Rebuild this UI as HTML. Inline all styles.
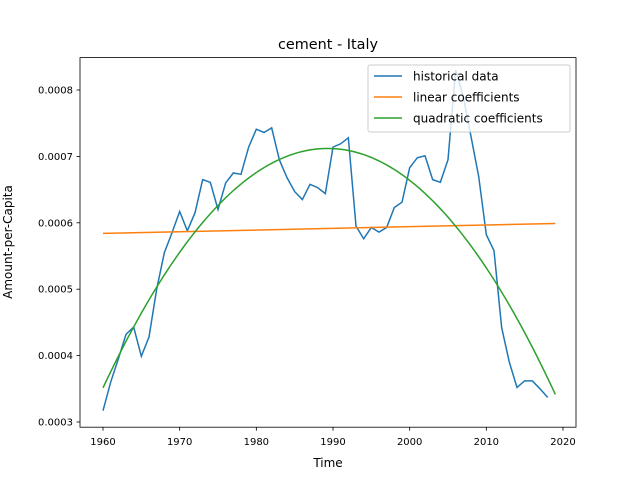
<!DOCTYPE html>
<html><head><meta charset="utf-8"><style>body{margin:0;background:#fff}svg{display:block;font-family:"DejaVu Sans","Liberation Sans",sans-serif}</style></head>
<body>
<svg id="chart" width="640" height="480" xmlns="http://www.w3.org/2000/svg">
<rect width="640" height="480" fill="#fff"/>
<text x="328" y="49" font-size="14.4" text-anchor="middle">cement - Italy</text>
<g id="plot"></g>
<rect x="80" y="57.6" width="496" height="369.6" fill="none" stroke="#000" stroke-width="0.8"/>
<text x="328" y="467" font-size="12" text-anchor="middle">Time</text>
<text transform="translate(12,242) rotate(-90)" font-size="12" text-anchor="middle">Amount-per-Capita</text>
<g>
<rect x="368" y="65" width="202" height="67" fill="#fff" fill-opacity="0.8" stroke="#ccc" rx="2"/>
<line x1="374" y1="76" x2="402" y2="76" stroke="#1f77b4" stroke-width="1.5"/>
<text x="413" y="80.5" font-size="12">historical data</text>
<line x1="374" y1="97" x2="402" y2="97" stroke="#ff7f0e" stroke-width="1.5"/>
<text x="413" y="101.5" font-size="12">linear coefficients</text>
<line x1="374" y1="118" x2="402" y2="118" stroke="#2ca02c" stroke-width="1.5"/>
<text x="413" y="122.5" font-size="12">quadratic coefficients</text>
</g>
</svg>
<script>
const years = [];
for (let y = 1960; y <= 2018; y++) years.push(y);
const historical = [0.000317,0.00036,0.000395,0.000432,0.000443,0.000399,0.000428,0.000500,0.000555,0.000585,0.000617,0.000588,0.000615,0.000665,0.000661,0.00062,0.00066,0.000675,0.000673,0.000714,0.000741,0.000736,0.000743,0.000695,0.000668,0.000647,0.000635,0.000658,0.000653,0.000644,0.000714,0.000719,0.000728,0.000595,0.000576,0.000593,0.000586,0.000593,0.000623,0.000631,0.000683,0.000698,0.000701,0.000665,0.000661,0.000695,0.00083,0.00079,0.00073,0.00067,0.000582,0.000558,0.000442,0.00039,0.000352,0.000362,0.000362,0.00035,0.000337];
const linearEnds = [0.000584, 0.000599];
const fitYears = [1960, 2019];
const quadPeakYear = [1989.3];
const quadPeakValue = [0.000712];
const quadCurv = [-4.2e-7];
const xTicks = [1960,1970,1980,1990,2000,2010,2020];
const yTicks = [0.0003,0.0004,0.0005,0.0006,0.0007,0.0008];

const X = t => 103 + (t - 1960) * (460 / 60);
const Y = v => 422 - (v - 0.0003) * 664000;
const g = document.getElementById('plot');
const NS = 'http://www.w3.org/2000/svg';
function mk(tag, attrs) { const e = document.createElementNS(NS, tag); for (const k in attrs) e.setAttribute(k, attrs[k]); g.appendChild(e); return e; }

xTicks.forEach(t => {
  const l = mk('line', {x1: X(t), x2: X(t), y1: 427.2, y2: 430.7, stroke: '#000', 'stroke-width': 0.8});
  
  
  const tx = mk('text', {x: X(t), y: 445, 'font-size': 10, 'text-anchor': 'middle'});
  tx.textContent = t;
  
  
});
yTicks.forEach(v => {
  const l = mk('line', {x1: 76.5, x2: 80, y1: Y(v), y2: Y(v), stroke: '#000', 'stroke-width': 0.8});
  
  
  const tx = mk('text', {x: 73, y: Y(v) + 3.5, 'font-size': 10, 'text-anchor': 'end'});
  tx.textContent = v.toFixed(4);
  
  
});

const hp = mk('polyline', {points: years.map((t, i) => X(t) + ',' + Y(historical[i])).join(' '), fill: 'none', stroke: '#1f77b4', 'stroke-width': 1.5});



const lp = mk('polyline', {points: fitYears.map((t, i) => X(t) + ',' + Y(linearEnds[i])).join(' '), fill: 'none', stroke: '#ff7f0e', 'stroke-width': 1.5});



const qpts = [];
for (let t = fitYears[0]; t <= fitYears[1]; t += 0.5) {
  const v = quadPeakValue[0] + quadCurv[0] * (t - quadPeakYear[0]) ** 2;
  qpts.push(X(t) + ',' + Y(v));
}
const qp = mk('polyline', {points: qpts.join(' '), fill: 'none', stroke: '#2ca02c', 'stroke-width': 1.5});


</script>
</body></html>
